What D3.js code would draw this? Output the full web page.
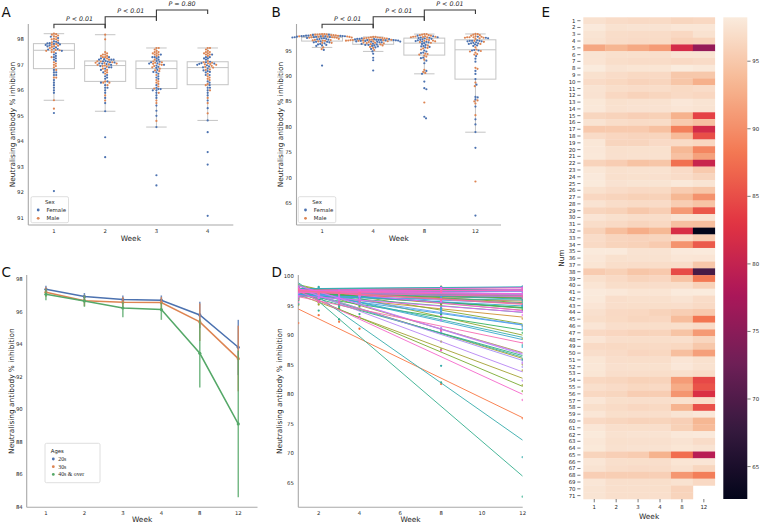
<!DOCTYPE html>
<html><head><meta charset="utf-8">
<script src="https://cdn.jsdelivr.net/npm/d3@7"></script>
<style>body{margin:0;background:#fff}svg{display:block}</style>
</head><body><svg id="c" width="761" height="524"></svg>
<script>
// ---------------- DATA ----------------
const weeks = [1, 2, 3, 4, 8, 12];
const nums = d3.range(1, 72);
const sexCodes = "FMMFFMFMFFMFMMFMFMFFMFMFMMFMFFMFMFMFMMFFMFMFMFFMFMMFFMFMFMMFFMFMFMFMFMF";
const w1 = [97.35,98.1,97.57,97.4,92.05,97.6,97.62,98.22,97.3,96.8,
 97.55,97.45,97.95,98.0,96.3,97.5,95.11,96.8,97.85,97.9,
 98.0,96.0,97.88,98.1,98.15,97.3,96.4,97.5,96.2,97.64,
 96.95,95.9,96.9,96.7,98.18,97.92,97.66,95.28,97.2,97.68,
 98.2,98.05,97.7,97.25,97.0,97.72,96.6,97.73,96.7,97.05,
 97.75,97.86,97.76,96.5,97.15,96.5,97.78,97.1,97.79,96.6,
 97.8,98.12,97.84,98.02,96.1,97.81,97.55,95.61,97.82,97.58,97.6];
const w2 = [96.9,97.4,96.97,96.9,93.38,97.2,97.0,97.5,96.85,96.45,
 97.0,96.5,97.3,97.35,96.0,96.95,95.18,96.35,96.2,97.2,
 97.25,95.5,97.3,97.2,97.45,96.85,96.1,96.92,95.9,97.22,
 96.7,94.16,96.2,96.1,98.18,97.3,97.02,95.8,96.7,97.03,
 98.0,97.05,97.05,96.6,96.65,97.06,96.35,97.07,96.55,96.8,
 97.08,97.25,97.09,96.3,96.8,96.3,97.1,96.75,97.1,96.3,
 97.12,97.4,97.2,97.35,95.7,97.13,96.95,95.6,97.14,97.14,97.15];
const w3 = [96.7,97.5,96.85,96.72,92.27,97.2,96.88,97.66,96.55,96.0,
 96.9,96.05,97.4,97.45,95.7,96.78,95.2,96.15,96.2,97.3,
 97.35,94.56,97.4,97.3,97.6,96.6,95.8,96.75,95.0,96.92,
 96.25,92.67,96.07,95.9,97.55,97.4,96.95,94.8,96.1,96.97,
 97.66,97.2,97.0,96.5,96.3,97.0,96.05,97.02,96.65,96.35,
 97.04,97.3,97.05,95.9,96.45,95.5,97.06,96.4,97.08,96.0,
 97.1,97.5,97.25,97.45,95.4,97.1,96.8,95.6,97.12,97.13,97.15];
const w4 = [96.75,97.5,96.89,96.78,91.08,97.15,96.9,97.66,96.6,96.2,
 96.92,96.3,97.4,97.45,95.8,96.82,94.36,96.2,96.72,97.3,
 97.35,94.82,97.4,97.25,97.6,96.65,95.9,96.8,95.6,96.94,
 96.5,93.58,96.25,95.3,97.55,97.4,96.96,95.1,96.35,96.98,
 97.66,97.2,97.0,96.0,96.4,97.0,96.1,97.02,96.7,96.45,
 97.03,97.3,97.04,96.0,96.6,95.5,97.05,96.55,97.06,96.1,
 97.07,97.5,97.25,97.45,93.09,97.08,96.85,95.7,97.1,97.1,97.12];
const w8 = [96.3,97.8,96.5,95.9,81.7,97.6,96.6,98.22,95.0,94.8,
 96.65,96.7,97.9,97.7,93.0,95.2,88.9,93.8,96.75,93.6,
 94.4,87.6,96.8,96.85,98.0,95.4,93.5,95.5,91.0,97.6,
 94.3,82.0,96.9,90.42,98.1,97.8,96.95,84.8,94.5,97.0,
 98.2,97.5,97.05,95.6,94.0,97.1,94.6,97.15,96.45,94.2,
 97.7,97.9,97.2,91.2,92.5,90.6,97.3,93.2,97.6,95.7,
 95.8,98.0,97.55,97.75,87.4,97.65,97.35,90.8,97.43,96.0,96.1];
const w12 = [96.5,97.8,97.4,96.0,75.9,97.6,96.8,98.0,95.0,92.8,
 96.9,96.4,97.6,97.5,84.0,94.3,81.5,85.0,96.4,89.4,
 91.6,80.5,95.2,96.2,97.6,94.8,90.4,94.6,85.8,97.5,
 94.2,62.6,95.6,85.9,98.2,97.7,94.9,69.3,88.3,95.9,
 98.25,96.9,96.7,95.1,88.0,96.8,91.0,96.3,95.0,91.4,
 97.3,97.4,96.9,84.6,85.4,82.3,97.0,85.2,97.9,93.4,
 93.9,98.1,96.9,97.5,79.0,97.7,96.3,88.7,96.6,null,null];
const byWeek = [w1, w2, w3, w4, w8, w12];

// Panel A (weeks 1-4) box statistics
const aWeeks = ["1", "2", "3", "4"];
const aQ1 = [96.85, 96.35, 96.07, 96.22];
const aMed = [97.57, 96.97, 96.85, 96.89];
const aQ3 = [97.83, 97.15, 97.15, 97.12];
const aLo = [95.61, 95.18, 94.56, 94.82];
const aHi = [98.22, 98.18, 97.66, 97.66];
const aTicks = [91, 92, 93, 94, 95, 96, 97, 98];
const aP = ["P < 0.01", "P < 0.01", "P = 0.80"];
// Panel B (weeks 1,4,8,12)
const bWeeks = ["1", "4", "8", "12"];
const bQ1 = [96.85, 96.22, 94.1, 89.38];
const bMed = [97.57, 96.89, 96.45, 95.14];
const bQ3 = [97.83, 97.12, 97.43, 97.1];
const bLo = [95.61, 94.82, 90.42, 78.97];
const bHi = [98.22, 97.66, 98.22, 98.25];
const bTicks = [65, 70, 75, 80, 85, 90, 95];
const bP = ["P < 0.01", "P < 0.01", "P < 0.01"];
// Panel C (means and error bars by age group)
const ageGroups = ["20s", "30s", "40s & over"];
const cMean20 = [97.38, 96.93, 96.75, 96.71, 95.8, 93.81];
const cLo20 = [97.15, 96.75, 96.5, 96.45, 95.0, 92.1];
const cHi20 = [97.6, 97.15, 97.0, 97.0, 96.62, 95.5];
const cMean30 = [97.2, 96.68, 96.58, 96.56, 95.37, 93.11];
const cLo30 = [96.9, 96.35, 96.25, 96.2, 94.2, 91.1];
const cHi30 = [97.5, 97.0, 96.9, 96.9, 96.5, 95.14];
const cMean40 = [97.07, 96.66, 96.23, 96.13, 93.44, 89.09];
const cLo40 = [96.7, 96.3, 95.66, 95.5, 91.34, 84.58];
const cHi40 = [97.4, 97.0, 96.62, 96.56, 95.54, 93.6];
const cTicks = [84, 86, 88, 90, 92, 94, 96, 98];
const dTicksY = [65, 70, 75, 80, 85, 90, 95, 100];
const dTicksX = [2, 4, 6, 8, 10, 12];
const cbTicks = [65, 70, 75, 80, 85, 90, 95];

// ---------------- STYLE ----------------
const BLUE = "#4c72b0", ORANGE = "#dd8452", GREEN = "#55a868";
const TXT = "#262626", SPINE = "#a8a8a8", BOXC = "#c4c4c4";
const TICK_FS = 5.3, LAB_FS = 7.4, LEG_FS = 5.4, LET_FS = 13.5;
const YLAB = "Neutralising antibody  % inhibition";
const svg = d3.select("#c");

function txt(g, x, y, s, o = {}) {
  const t = g.append("text").attr("x", x).attr("y", y).text(s)
    .attr("font-size", o.size || TICK_FS).attr("fill", o.fill || TXT)
    .attr("text-anchor", o.anchor || "middle").attr("dominant-baseline", "central")
    .attr("font-family", o.family || "DejaVu Sans");
  if (o.style) t.attr("font-style", o.style);
  if (o.rotate) t.attr("transform", `rotate(-90,${x},${y})`);
  return t;
}
function line(g, x1, y1, x2, y2, c, w) {
  return g.append("line").attr("x1", x1).attr("y1", y1).attr("x2", x2).attr("y2", y2)
    .attr("stroke", c).attr("stroke-width", w);
}

// ---------------- rocket colormap ----------------
const rocketStops = ["#03051a", "#35193e", "#701f57", "#ad1759", "#e13342", "#f37651", "#f6b48f", "#faebdd"];
const rocket = d3.scaleLinear().domain(rocketStops.map((_, i) => i / 7)).range(rocketStops)
  .interpolate(d3.interpolateRgb).clamp(true);

// ---------------- HUSL palette ----------------
const M = [[3.240969941904521, -1.537383177570093, -0.498610760293],
  [-0.96924363628087, 1.87596750150772, 0.041555057407175],
  [0.055630079696993, -0.20397695888897, 1.056971514242878]];
const refU = 0.19783000664283, refV = 0.46831999493879, kappa = 903.2962962, eps = 0.0088564516;
function maxChroma(L, H) {
  const sub1 = Math.pow(L + 16, 3) / 1560896, sub2 = sub1 > eps ? sub1 : L / kappa;
  const hr = H / 360 * 2 * Math.PI; let mn = Infinity;
  for (let c = 0; c < 3; c++) {
    const [m1, m2, m3] = M[c];
    for (let t = 0; t < 2; t++) {
      const top1 = (284517 * m1 - 94839 * m3) * sub2;
      const top2 = (838422 * m3 + 769860 * m2 + 731718 * m1) * L * sub2 - 769860 * t * L;
      const bot = (632260 * m3 - 126452 * m2) * sub2 + 126452 * t;
      const len = (top2 / bot) / (Math.sin(hr) - (top1 / bot) * Math.cos(hr));
      if (len >= 0 && len < mn) mn = len;
    }
  }
  return mn;
}
function husl(H, S, L) {
  const C = maxChroma(L, H) / 100 * S, hr = H / 360 * 2 * Math.PI;
  const U = Math.cos(hr) * C, V = Math.sin(hr) * C;
  const Y = L <= 8 ? L / kappa : Math.pow((L + 16) / 116, 3);
  const vu = U / (13 * L) + refU, vv = V / (13 * L) + refV;
  const X = 9 * Y * vu / (4 * vv), Z = (9 * Y - 15 * vv * Y - vv * X) / (3 * vv);
  const f = c => { c = c <= 0.0031308 ? 12.92 * c : 1.055 * Math.pow(c, 1 / 2.4) - 0.055; return Math.round(Math.max(0, Math.min(1, c)) * 255); };
  const rgb = M.map(r => f(r[0] * X + r[1] * Y + r[2] * Z));
  return d3.rgb(rgb[0], rgb[1], rgb[2]).formatHex();
}
const numColor = nums.map((n, i) => husl(((i / nums.length + 0.01) % 1) * 359, 89.1, 64.35));

// ---------------- swarm ----------------
function swarm(vals, y, d) {
  const pts = vals.map((v, i) => ({ v, i })).filter(p => p.v != null)
    .map(p => ({ ...p, y: y(p.v) })).sort((a, b) => a.y - b.y);
  const placed = [];
  for (const p of pts) {
    const near = placed.filter(q => Math.abs(q.y - p.y) < d);
    const cands = [0];
    for (const q of near) { const dx = Math.sqrt(d * d - (q.y - p.y) ** 2); cands.push(q.x + dx, q.x - dx); }
    cands.sort((a, b) => Math.abs(a) - Math.abs(b));
    for (const c of cands) {
      if (near.every(q => (q.x - c) ** 2 + (q.y - p.y) ** 2 >= d * d - 1e-6)) { p.x = c; break; }
    }
    placed.push(p);
  }
  return placed;
}

// ---------------- Box + swarm panels ----------------
function boxPanel(o) {
  const g = svg.append("g");
  const x = d3.scalePoint().domain(o.cats).range([o.x0, o.x1]).padding(0.5);
  const y = d3.scaleLinear().domain(o.yDom).range([o.yBot, o.yTop]);
  const step = x.step(), bw = step * 0.8;
  line(g, o.x0, o.yTop, o.x0, o.yBot, SPINE, 1.1);
  line(g, o.x0, o.yBot, o.x1, o.yBot, SPINE, 1.1);
  o.yTicks.forEach(t => txt(g, o.x0 - 4.5, y(t), t, { anchor: "end" }));
  o.cats.forEach(c => txt(g, x(c), o.yBot + 5.5, c));
  txt(g, (o.x0 + o.x1) / 2, o.yBot + 13.5, "Week", { size: LAB_FS });
  txt(g, o.labelX, (o.yTop + o.yBot) / 2, YLAB, { size: LAB_FS, rotate: true });
  txt(g, o.letterX, 11.5, o.letter, { size: LET_FS, anchor: "start", fill: "#111" });
  o.cats.forEach((c, i) => {
    const xc = x(c);
    g.append("rect").attr("x", xc - bw / 2).attr("y", y(o.q3[i])).attr("width", bw)
      .attr("height", y(o.q1[i]) - y(o.q3[i])).attr("fill", "#fff").attr("stroke", BOXC).attr("stroke-width", 1);
    line(g, xc - bw / 2, y(o.med[i]), xc + bw / 2, y(o.med[i]), BOXC, 1);
    line(g, xc, y(o.q3[i]), xc, y(o.hi[i]), BOXC, 1);
    line(g, xc, y(o.q1[i]), xc, y(o.lo[i]), BOXC, 1);
    line(g, xc - bw / 4, y(o.hi[i]), xc + bw / 4, y(o.hi[i]), BOXC, 1);
    line(g, xc - bw / 4, y(o.lo[i]), xc + bw / 4, y(o.lo[i]), BOXC, 1);
  });
  o.series.forEach((vals, k) => {
    const xc = x(o.cats[k]);
    swarm(vals, y, 2.3).forEach(p => {
      g.append("circle").attr("cx", xc + p.x).attr("cy", p.y).attr("r", 1.1)
        .attr("fill", sexCodes[p.i] === "F" ? BLUE : ORANGE);
    });
  });
  // significance brackets
  const br = [{ y: 24.3, l: 28.3, r: 28.3, ty: 18.3 }, { y: 16.7, l: 28.3, r: 20.7, ty: 10.7 }, { y: 10, l: 20.7, r: 14, ty: 3.6 }];
  br.forEach((b, i) => {
    const xa = x(o.cats[i]), xb = x(o.cats[i + 1]);
    g.append("path").attr("d", `M${xa},${b.l}V${b.y}H${xb}V${b.r}`).attr("fill", "none")
      .attr("stroke", "#3a3a3a").attr("stroke-width", 1.1);
    txt(g, (xa + xb) / 2, b.ty, o.pvals[i], { size: 6.3, style: "italic" });
  });
  // legend
  const lx = o.legX, ly = 196.7;
  g.append("rect").attr("x", lx).attr("y", ly).attr("width", 37.5).attr("height", 26).attr("rx", 1.5)
    .attr("fill", "#fff").attr("stroke", "#d6d6d6").attr("stroke-width", 0.8);
  txt(g, lx + 18.8, ly + 5, "Sex", { size: LEG_FS });
  [["Female", BLUE], ["Male", ORANGE]].forEach(([s, c], i) => {
    g.append("circle").attr("cx", lx + 7.2).attr("cy", ly + 13.3 + i * 8.3).attr("r", 1.4).attr("fill", c);
    txt(g, lx + 15.5, ly + 13.3 + i * 8.3, s, { size: LEG_FS, anchor: "start" });
  });
}

boxPanel({ x0: 28.3, x1: 233.3, yTop: 24, yBot: 225, yDom: [90.72, 98.6], yTicks: aTicks, cats: aWeeks,
  series: [w1, w2, w3, w4], q1: aQ1, med: aMed, q3: aQ3, lo: aLo, hi: aHi, pvals: aP,
  letter: "A", letterX: 1.5, labelX: 12, legX: 31 });
boxPanel({ x0: 296.5, x1: 501, yTop: 24, yBot: 225, yDom: [60.76, 100.2], yTicks: bTicks, cats: bWeeks,
  series: [w1, w4, w8, w12], q1: bQ1, med: bMed, q3: bQ3, lo: bLo, hi: bHi, pvals: bP,
  letter: "B", letterX: 271.5, labelX: 280, legX: 298.3 });

// ---------------- Panel C ----------------
(function () {
  const g = svg.append("g");
  const x0 = 26.7, x1 = 257.5, yTop = 275, yBot = 507.3;
  const x = d3.scalePoint().domain(weeks).range([x0, x1]).padding(0.5);
  const y = d3.scaleLinear().domain([83.96, 98.26]).range([yBot, yTop]);
  line(g, x0, yTop, x0, yBot, SPINE, 1.1);
  line(g, x0, yBot, x1, yBot, SPINE, 1.1);
  cTicks.forEach(t => txt(g, x0 - 4, y(t), t, { anchor: "end" }));
  weeks.forEach(w => txt(g, x(w), yBot + 5.4, w));
  txt(g, (x0 + x1) / 2, 519.4, "Week", { size: LAB_FS });
  txt(g, 12, (yTop + yBot) / 2, YLAB, { size: LAB_FS, rotate: true });
  txt(g, 1.5, 272, "C", { size: LET_FS, anchor: "start", fill: "#111" });
  const series = [[cMean20, cLo20, cHi20, BLUE], [cMean30, cLo30, cHi30, ORANGE], [cMean40, cLo40, cHi40, GREEN]];
  series.forEach(([m, lo, hi, col]) => {
    weeks.forEach((w, i) => line(g, x(w), y(lo[i]), x(w), y(hi[i]), col, 1.5).attr("stroke-opacity", 0.8));
    g.append("path").attr("d", d3.line().x((d, i) => x(weeks[i])).y(d => y(d))(m))
      .attr("fill", "none").attr("stroke", col).attr("stroke-width", 1.5);
    m.forEach((v, i) => g.append("circle").attr("cx", x(weeks[i])).attr("cy", y(v)).attr("r", 1.6).attr("fill", col));
  });
  const lx = 45, ly = 443.3;
  g.append("rect").attr("x", lx).attr("y", ly).attr("width", 55).attr("height", 39.4).attr("rx", 1.5)
    .attr("fill", "#fff").attr("stroke", "#d6d6d6").attr("stroke-width", 0.8);
  txt(g, lx + 5.7, ly + 7.7, "Ages", { size: LEG_FS, anchor: "start" });
  [BLUE, ORANGE, GREEN].forEach((c, i) => {
    const yy = ly + 15.7 + i * 7.7;
    g.append("circle").attr("cx", lx + 8.3).attr("cy", yy).attr("r", 1.4).attr("fill", c);
    txt(g, lx + 13.3, yy, ageGroups[i], { size: 5.8, anchor: "start", family: "Liberation Serif" });
  });
})();

// ---------------- Panel D ----------------
(function () {
  const g = svg.append("g");
  const x0 = 298.3, x1 = 522.7, yTop = 275, yBot = 507.3;
  const x = d3.scaleLinear().domain([1, 12]).range([x0, x1]);
  const y = d3.scaleLinear().domain([60.8, 100.2]).range([yBot, yTop]);
  svg.append("clipPath").attr("id", "clipD").append("rect").attr("x", x0).attr("y", yTop).attr("width", x1 - x0).attr("height", yBot - yTop);
  line(g, x0, yTop, x0, yBot, SPINE, 1.1);
  line(g, x0, yBot, x1, yBot, SPINE, 1.1);
  dTicksY.forEach(t => txt(g, x0 - 4.5, y(t), t, { anchor: "end" }));
  dTicksX.forEach(t => txt(g, x(t), yBot + 5.4, t));
  txt(g, (x0 + x1) / 2, 519.4, "Week", { size: LAB_FS });
  txt(g, 280, (yTop + yBot) / 2, YLAB, { size: LAB_FS, rotate: true });
  txt(g, 271.5, 271.5, "D", { size: LET_FS, anchor: "start", fill: "#111" });
  const gc = g.append("g").attr("clip-path", "url(#clipD)");
  nums.forEach((n, r) => {
    const pts = weeks.map((w, k) => [w, byWeek[k][r]]).filter(p => p[1] != null);
    const mx = d3.mean(pts, p => p[0]), my = d3.mean(pts, p => p[1]);
    const sxy = d3.sum(pts, p => (p[0] - mx) * (p[1] - my)), sxx = d3.sum(pts, p => (p[0] - mx) ** 2);
    const b = sxy / sxx, a = my - b * mx;
    const col = numColor[r];
    pts.forEach(p => gc.append("circle").attr("cx", x(p[0])).attr("cy", y(p[1])).attr("r", 1.15).attr("fill", col));
    gc.append("line").attr("x1", x(1)).attr("y1", y(a + b)).attr("x2", x(12)).attr("y2", y(a + b * 12))
      .attr("stroke", col).attr("stroke-width", 0.9);
  });
})();

// ---------------- Panel E ----------------
(function () {
  const g = svg.append("g");
  const hx0 = 583.3, hx1 = 714.8, hy0 = 17.3, hy1 = 499;
  const x = d3.scaleBand().domain(weeks).range([hx0, hx1]);
  const y = d3.scaleBand().domain(nums).range([hy0, hy1]);
  const all = byWeek.flat().filter(v => v != null);
  const [vmin, vmax] = d3.extent(all);
  const col = v => rocket((v - vmin) / (vmax - vmin));
  weeks.forEach((w, k) => nums.forEach((n, r) => {
    const v = byWeek[k][r];
    if (v == null) return;
    g.append("rect").attr("x", x(w)).attr("y", y(n)).attr("width", x.bandwidth() + 0.3)
      .attr("height", y.bandwidth() + 0.3).attr("fill", col(v));
  }));
  nums.forEach(n => {
    const yy = y(n) + y.bandwidth() / 2;
    line(g, hx0 - 6, yy, hx0 - 2.8, yy, "#444", 0.7);
    txt(g, hx0 - 7.8, yy, n, { anchor: "end", size: 5.4 });
  });
  weeks.forEach(w => {
    const xx = x(w) + x.bandwidth() / 2;
    line(g, xx, hy1, xx, hy1 + 3.3, "#444", 0.7);
    txt(g, xx, hy1 + 8.3, w, { size: 5.4 });
  });
  txt(g, (hx0 + hx1) / 2, 516.5, "Week", { size: LAB_FS });
  txt(g, 561.7, (hy0 + hy1) / 2, "Num", { size: LAB_FS, rotate: true });
  txt(g, 541.5, 11.5, "E", { size: LET_FS, anchor: "start", fill: "#111" });
  // colorbar
  const cbx = 723.3, cbw = 24;
  const cy = d3.scaleLinear().domain([vmin, vmax]).range([hy1, hy0]);
  const grad = svg.append("defs").append("linearGradient").attr("id", "cbg")
    .attr("x1", 0).attr("y1", 1).attr("x2", 0).attr("y2", 0);
  d3.range(0, 1.0001, 0.02).forEach(t => grad.append("stop").attr("offset", t).attr("stop-color", rocket(t)));
  g.append("rect").attr("x", cbx).attr("y", hy0).attr("width", cbw).attr("height", hy1 - hy0).attr("fill", "url(#cbg)");
  cbTicks.forEach(t => {
    line(g, cbx + cbw, cy(t), cbx + cbw + 3.3, cy(t), "#444", 0.7);
    txt(g, cbx + cbw + 5, cy(t), t, { anchor: "start", size: 5.4 });
  });
})();
</script></body></html>
